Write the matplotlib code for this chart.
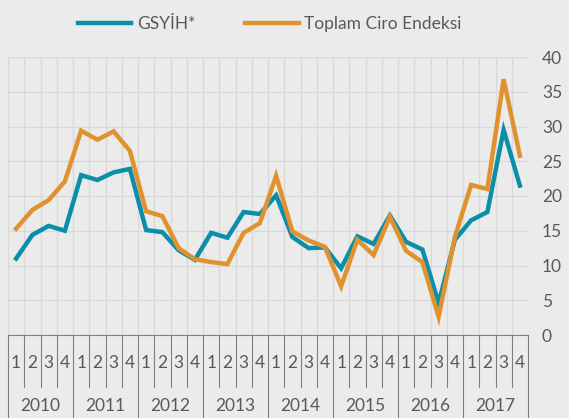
import numpy as np
import matplotlib
matplotlib.use("Agg")
from matplotlib import pyplot as plt

years = ["2010", "2011", "2012", "2013", "2014", "2015", "2016", "2017"]
quarters = ["1", "2", "3", "4"]

gsyih = [11.0, 14.4, 15.7, 15.0, 23.0, 22.3, 23.4, 23.9,
         15.1, 14.8, 12.2, 10.8, 14.7, 14.0, 17.7, 17.4,
         20.1, 14.1, 12.5, 12.6, 9.6, 14.2, 13.1, 17.2,
         13.4, 12.3, 4.6, 13.7, 16.5, 17.7, 29.5, 21.5]
ciro = [15.3, 18.0, 19.4, 22.1, 29.4, 28.1, 29.3, 26.5,
        17.8, 17.1, 12.5, 10.9, 10.5, 10.2, 14.7, 16.1,
        22.9, 14.9, 13.6, 12.7, 7.0, 13.7, 11.5, 17.0,
        12.1, 10.5, 2.6, 14.1, 21.6, 21.0, 36.8, 25.8]

bg = "#ebebeb"
grid_c = "#d9d9d9"
txt_c = "#595959"
axis_c = "#7f7f7f"
blue = "#0a8eaa"
orange = "#e0922f"

plt.rcParams['font.family'] = ['Lato', 'DejaVu Sans']

fig = plt.figure(figsize=(5.69, 4.18), dpi=100, facecolor=bg)
W, H = 569, 418
x0, x1, yb, yt = 8, 528, 335, 57
ax = fig.add_axes([x0 / W, (H - yb) / H, (x1 - x0) / W, (yb - yt) / H])
ax.set_facecolor(bg)

x = np.arange(len(gsyih))
ax.plot(x, gsyih, color=blue, lw=3.2, label="GSYİH*", solid_joinstyle="miter")
ax.plot(x, ciro, color=orange, lw=3.2, label="Toplam Ciro Endeksi", solid_joinstyle="miter")

ax.set_xlim(-0.5, len(x) - 0.5)
ax.set_ylim(0, 40)
ax.set_yticks(np.arange(0, 41, 5))
ax.yaxis.tick_right()
ax.tick_params(axis="y", length=0, labelsize=12.5, labelcolor=txt_c, pad=10)
ax.set_xticks(np.arange(-0.5, len(x), 1), minor=True)
ax.set_xticks([])
ax.grid(True, axis="y", color=grid_c, lw=1)
ax.grid(True, axis="x", which="minor", color=grid_c, lw=1)
ax.tick_params(axis="x", which="minor", length=0)
for s in ["top", "left", "right"]:
    ax.spines[s].set_visible(False)
ax.spines["bottom"].set_color(axis_c)
ax.set_axisbelow(True)

# multi-level category axis
tr = ax.get_xaxis_transform()
h = yb - yt
q_bot = -(387 - yb) / h
y_bot = -(H - yb) / h - 0.01
for i in range(len(x) + 1):
    b = i - 0.5
    if i % 4 == 0:
        ax.plot([b, b], [0, y_bot], color=axis_c, lw=0.8, transform=tr, clip_on=False)
    else:
        ax.plot([b, b], [0, q_bot], color=axis_c, lw=0.8, transform=tr, clip_on=False)
for i in range(len(x)):
    ax.text(i, -(363 - yb) / h, quarters[i % 4], transform=tr, ha="center", va="center",
            fontsize=12.5, color=txt_c)
for j, yr in enumerate(years):
    ax.text(j * 4 + 1.5, -(406 - yb) / h, yr, transform=tr, ha="center", va="center",
            fontsize=12.5, color=txt_c)

fig.legend(loc="upper center", bbox_to_anchor=(0.474, 1.0), ncol=2, frameon=False,
           fontsize=12.5, labelcolor=txt_c, handlelength=3.1, columnspacing=2.9,
           handletextpad=0.3)

fig.savefig("out.png", dpi=100, facecolor=bg)
